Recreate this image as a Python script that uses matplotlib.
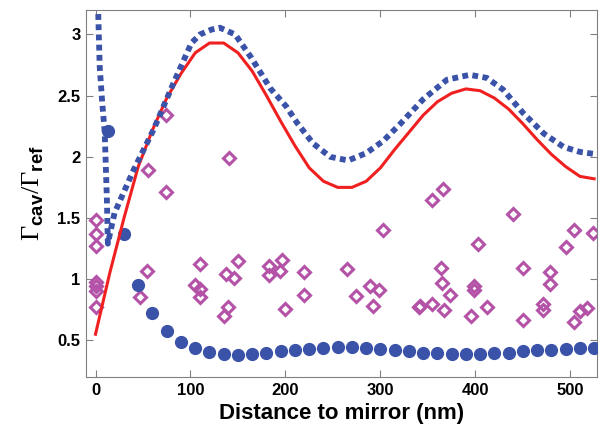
import matplotlib
matplotlib.use("Agg")
import matplotlib.pyplot as plt
from matplotlib.ticker import FormatStrFormatter

plt.rcParams["font.family"] = ["Liberation Sans", "DejaVu Sans"]
plt.rcParams["mathtext.fontset"] = "custom"
plt.rcParams["mathtext.rm"] = "Liberation Serif:weight=normal"
plt.rcParams["mathtext.bf"] = "Liberation Sans:bold"
plt.rcParams["mathtext.sf"] = "Liberation Sans:bold"

# red solid curve
red_x = [0, 15, 30, 45, 60, 75, 90, 105, 120, 135, 150, 165, 180, 195, 210,
         225, 240, 255, 270, 285, 300, 315, 330, 345, 360, 375, 390, 405,
         420, 435, 450, 465, 480, 495, 510, 525]
red_y = [0.55, 1.05, 1.50, 1.92, 2.22, 2.48, 2.68, 2.85, 2.93, 2.93, 2.85,
         2.70, 2.50, 2.29, 2.09, 1.91, 1.80, 1.75, 1.75, 1.80, 1.91, 2.06,
         2.20, 2.34, 2.45, 2.52, 2.555, 2.54, 2.48, 2.39, 2.27, 2.14, 2.02,
         1.92, 1.84, 1.82]

# blue dotted curve
dot_x = [2.6, 4.4, 7, 9.7, 12, 13, 16, 20, 40, 61, 82, 101, 110, 122, 131,
         147, 164, 184, 201, 212, 229, 247, 266, 285, 303, 321, 345, 370,
         394, 412, 429, 450, 472, 493, 510, 528]
dot_y = [3.25, 2.74, 2.45, 2.20, 1.65, 1.29, 1.40, 1.54, 1.89, 2.22, 2.60,
         2.93, 3.00, 3.04, 3.055, 3.00, 2.81, 2.56, 2.41, 2.28, 2.11, 2.00,
         1.97, 2.03, 2.13, 2.27, 2.47, 2.63, 2.67, 2.645, 2.55, 2.36, 2.19,
         2.08, 2.04, 2.02]

# blue filled circles
circ_x = [13, 30, 45, 60, 75, 90, 105, 120, 135, 150, 165, 180, 195, 210,
          225, 240, 255, 270, 285, 300, 315, 330, 345, 360, 375, 390, 405,
          420, 435, 450, 465, 480, 495, 510, 525]
circ_y = [2.21, 1.37, 0.95, 0.72, 0.58, 0.49, 0.44, 0.405, 0.39, 0.38, 0.385,
          0.40, 0.41, 0.42, 0.43, 0.437, 0.445, 0.445, 0.44, 0.43, 0.42, 0.41,
          0.40, 0.396, 0.39, 0.39, 0.39, 0.396, 0.40, 0.41, 0.42, 0.423, 0.43,
          0.435, 0.44]

# open diamonds
dia_x = [0, 0, 0, 0, 0, 0, 0, 47, 54, 55, 74, 74, 104.5, 110, 110, 110,
         135, 137, 140, 141, 146, 150, 183, 183, 194, 196, 199, 219, 219,
         265, 274, 289, 292, 299, 303, 341, 342, 354, 354, 364, 365, 366,
         367, 373, 395, 398, 398, 403, 412, 440, 450, 450, 471, 471, 478,
         478, 495, 504, 504, 510, 518, 524]
dia_y = [1.48, 1.37, 1.27, 0.98, 0.94, 0.90, 0.77, 0.855, 1.07, 1.89, 2.34,
         1.71, 0.95, 1.12, 0.92, 0.85, 0.70, 1.04, 0.77, 1.99, 1.01, 1.15,
         1.11, 1.03, 1.07, 1.16, 0.755, 1.055, 0.87, 1.08, 0.86, 0.94, 0.78,
         0.91, 1.40, 0.77, 0.78, 0.80, 1.65, 1.09, 0.97, 1.74, 0.75, 0.87,
         0.70, 0.94, 0.91, 1.29, 0.77, 1.53, 1.09, 0.67, 0.795, 0.75, 1.06,
         0.96, 1.26, 1.40, 0.65, 0.74, 0.76, 1.38]

x_ticks = [0, 100, 200, 300, 400, 500]
y_ticks = [0.5, 1, 1.5, 2, 2.5, 3]

fig = plt.figure(figsize=(6.04, 4.29), dpi=100)
ax = fig.add_axes([0.1424, 0.1212, 0.846, 0.8555])

ax.plot(dia_x, dia_y, linestyle="none", marker="D", markersize=6.5,
        markerfacecolor="none", markeredgecolor="#b452a8",
        markeredgewidth=2.2, zorder=2)
ax.plot(circ_x, circ_y, linestyle="none", marker="o", markersize=8.5,
        color="#3a52a8", zorder=3)
ax.plot(red_x, red_y, color="#f02020", linewidth=2.2, zorder=4)
ax.plot(dot_x, dot_y, color="#3a52a8", linewidth=4.2, dashes=(1.0, 0.75),
        dash_capstyle="butt", zorder=5)

ax.set_xlim(-10, 528)
ax.set_ylim(0.2, 3.2)
ax.set_xticks(x_ticks)
ax.set_yticks(y_ticks)
ax.yaxis.set_major_formatter(FormatStrFormatter("%g"))
ax.tick_params(direction="in", length=5, width=0.8, color="#808080",
               top=True, right=True, labelsize=12, pad=4)
for lab in ax.get_xticklabels() + ax.get_yticklabels():
    lab.set_fontweight("bold")
for sp in ax.spines.values():
    sp.set_color("#808080")
    sp.set_linewidth(0.8)

ax.set_xlabel("Distance to mirror (nm)", fontsize=16, fontweight="bold",
              labelpad=4)
ax.set_ylabel(r"$\Gamma_{\mathbf{cav}}/\Gamma_{\mathbf{ref}}$", fontsize=19,
              labelpad=8)

fig.savefig("out.png", dpi=100)
